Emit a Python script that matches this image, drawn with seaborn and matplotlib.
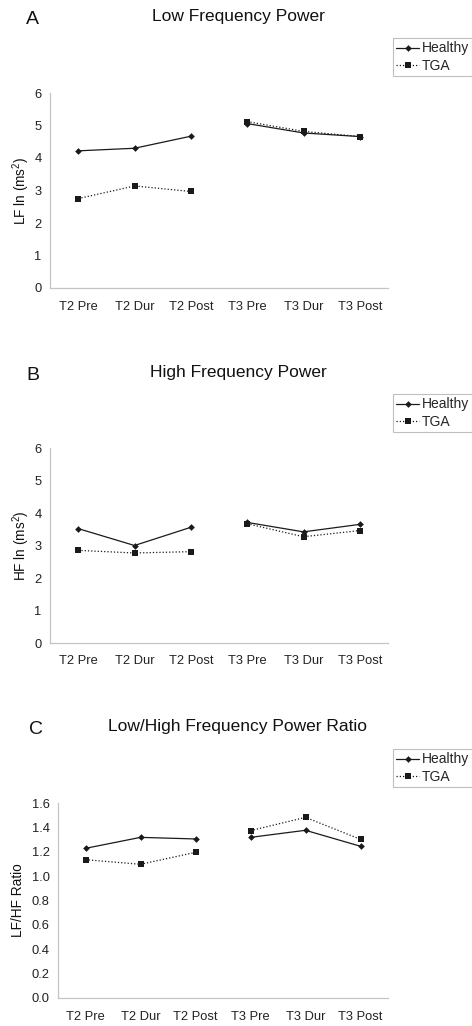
import numpy as np
import pandas as pd
import matplotlib
matplotlib.use("Agg")
import matplotlib.pyplot as plt
from matplotlib.lines import Line2D
from matplotlib.ticker import FormatStrFormatter
import seaborn as sns

categories = ["T2 Pre", "T2 Dur", "T2 Post", "T3 Pre", "T3 Dur", "T3 Post"]
sessions = ["T2", "T2", "T2", "T3", "T3", "T3"]
groups = ["Healthy", "TGA"]

lf_healthy = [4.22, 4.30, 4.67, 5.06, 4.77, 4.66]
lf_tga = [2.75, 3.14, 2.97, 5.12, 4.82, 4.66]
hf_healthy = [3.52, 3.00, 3.56, 3.71, 3.42, 3.65]
hf_tga = [2.85, 2.77, 2.81, 3.67, 3.27, 3.46]
ratio_healthy = [1.228, 1.318, 1.305, 1.318, 1.376, 1.245]
ratio_tga = [1.135, 1.097, 1.195, 1.373, 1.482, 1.302]

panel_letters = ["A", "B", "C"]
panel_titles = ["Low Frequency Power", "High Frequency Power", "Low/High Frequency Power Ratio"]
y_labels = ["LF ln (ms$^2$)", "HF ln (ms$^2$)", "LF/HF Ratio"]
y_limits = [(0, 6), (0, 6), (0, 1.6)]
y_ticks = [np.arange(0, 7, 1), np.arange(0, 7, 1), np.arange(0, 1.61, 0.2)]
panel_data = [(lf_healthy, lf_tga), (hf_healthy, hf_tga), (ratio_healthy, ratio_tga)]

sns.set_style("white")
plt.rcParams["font.family"] = ["Liberation Sans", "DejaVu Sans"]
plt.rcParams["mathtext.fontset"] = "custom"
plt.rcParams["mathtext.rm"] = "Liberation Sans"

W, H = 472, 1026
fig = plt.figure(figsize=(W / 100, H / 100), dpi=100)

# axes boxes in pixels: left, right, top, bottom
boxes = [(50, 388, 93, 288), (50, 388, 448, 643), (58, 388, 803, 998)]
title_y = [16, 372, 727]
letter_x = [32, 33, 36]
legend_top = [38, 394, 749]

spine_col = "#c4c4c4"
line_col = "#1a1a1a"

for i in range(3):
    l, r, t, b = boxes[i]
    ax = fig.add_axes([l / W, 1 - b / H, (r - l) / W, (b - t) / H])
    h_vals, t_vals = panel_data[i]
    rows = []
    for g, vals in zip(groups, (h_vals, t_vals)):
        for j, (c, s, v) in enumerate(zip(categories, sessions, vals)):
            rows.append({"pos": j, "cat": c, "group": g, "seg": g + s, "value": v})
    df = pd.DataFrame(rows)
    sns.lineplot(
        data=df, x="pos", y="value", style="group", units="seg", estimator=None,
        markers={"Healthy": "D", "TGA": "s"},
        dashes={"Healthy": "", "TGA": (1, 1.6)},
        color=line_col, linewidth=0.9, markersize=3.6, markeredgewidth=0,
        legend=False, ax=ax,
    )
    for ln in ax.get_lines():
        if ln.get_marker() == "s":
            ln.set_markersize(4.6)
        else:
            ln.set_markersize(3.4)

    ax.set_xlim(-0.5, len(categories) - 0.5)
    ax.set_ylim(*y_limits[i])
    ax.set_xticks(range(len(categories)))
    ax.set_xticklabels(categories, fontsize=9.3, color="#222222")
    ax.set_xticks(np.arange(-0.5, len(categories), 1), minor=True)
    ax.tick_params(axis="x", which="major", length=0, pad=9)
    ax.tick_params(axis="x", which="minor", length=4, width=0.8, color=spine_col, direction="out")
    ax.set_yticks(y_ticks[i])
    if i == 2:
        ax.yaxis.set_major_formatter(FormatStrFormatter("%.1f"))
    ax.tick_params(axis="y", length=3, width=0.8, color=spine_col, direction="out",
                   labelsize=9.3, labelcolor="#222222", pad=3)
    ax.set_xlabel("")
    ax.set_ylabel(y_labels[i], fontsize=9.8, color="#111111", labelpad=2 if i < 2 else 5)
    for sp in ["top", "right"]:
        ax.spines[sp].set_visible(False)
    for sp in ["left", "bottom"]:
        ax.spines[sp].set_color(spine_col)
        ax.spines[sp].set_linewidth(0.9)

    fig.text(238 / W, 1 - title_y[i] / H, panel_titles[i], ha="center", va="center",
             fontsize=12.5, color="#111111")
    fig.text(letter_x[i] / W, 1 - (title_y[i] + 3) / H, panel_letters[i], ha="center",
             va="center", fontsize=14, color="#111111")

    handles = [
        Line2D([], [], color=line_col, linewidth=0.9, marker="D", markersize=3.4, markeredgewidth=0),
        Line2D([], [], color=line_col, linewidth=0.9, linestyle=(0, (1, 1.6)), marker="s",
               markersize=4.6, markeredgewidth=0),
    ]
    leg = ax.legend(handles, groups, loc="upper left",
                    bbox_to_anchor=(393 / W, 1 - legend_top[i] / H),
                    bbox_transform=fig.transFigure, fontsize=10, frameon=True,
                    fancybox=False, borderpad=0.25, handlelength=1.6, handletextpad=0.2,
                    labelspacing=0.25, borderaxespad=0)
    leg.get_frame().set_edgecolor("#b0b0b0")
    leg.get_frame().set_linewidth(0.8)

fig.savefig("out.png", dpi=100)
